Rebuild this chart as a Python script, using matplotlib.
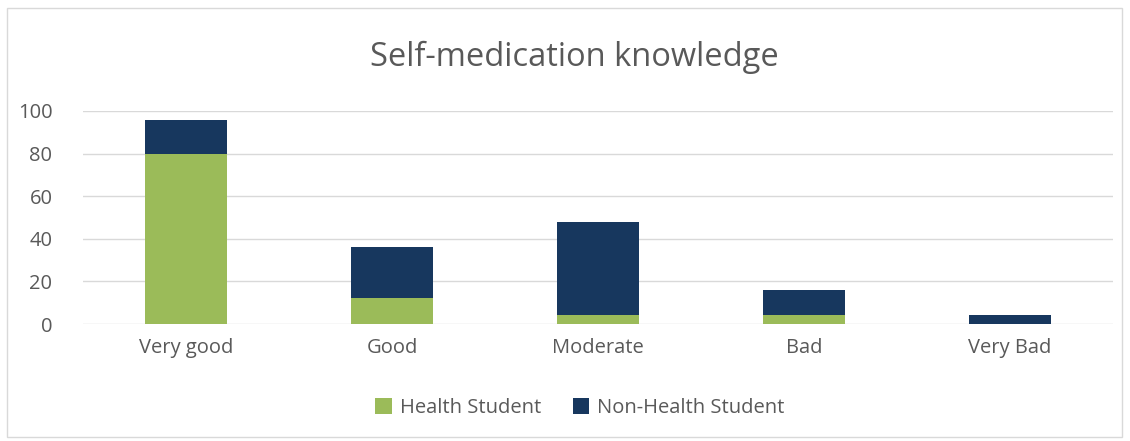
import matplotlib.pyplot as plt
from matplotlib.patches import Rectangle

categories = ['Very good', 'Good', 'Moderate', 'Bad', 'Very Bad']
health = [80, 12, 4, 4, 0]
non_health = [16, 24, 44, 12, 4]

green = '#9BBB59'
navy = '#17375E'
grey = '#595959'

plt.rcParams['font.family'] = ['Open Sans', 'DejaVu Sans']

fig = plt.figure(figsize=(11.3, 4.41), dpi=100)
ax = fig.add_axes([83 / 1130, 1 - 324 / 441, 1030 / 1130, 213 / 441])

x = range(len(categories))
ax.bar(x, health, width=0.4, color=green, label='Health Student', zorder=3)
ax.bar(x, non_health, width=0.4, bottom=health, color=navy, label='Non-Health Student', zorder=3)

ax.set_xlim(-0.5, 4.5)
ax.set_ylim(0, 100)
ax.set_yticks(range(0, 101, 20))
ax.set_xticks(list(x))
ax.set_xticklabels(categories)
ax.grid(axis='y', color='#D9D9D9', linewidth=1, zorder=0)
for s in ax.spines.values():
    s.set_visible(False)
ax.tick_params(length=0, labelsize=14.5, colors=grey, pad=10)
ax.tick_params(axis='y', pad=22)

fig.text(574 / 1130, 1 - 57 / 441, 'Self-medication knowledge', ha='center', va='center',
         fontsize=23.5, color=grey)

fig.legend(loc='center', bbox_to_anchor=(580 / 1130, 1 - 408 / 441), ncol=2, frameon=False,
           fontsize=14.5, labelcolor=grey, handlelength=0.8, handleheight=0.8,
           columnspacing=1.6, handletextpad=0.4)

fig.patches.append(Rectangle((7 / 1130, 4 / 441), 1115 / 1130, 429 / 441,
                             transform=fig.transFigure, fill=False,
                             edgecolor='#D9D9D9', linewidth=1))

plt.savefig('out.png', dpi=100)
